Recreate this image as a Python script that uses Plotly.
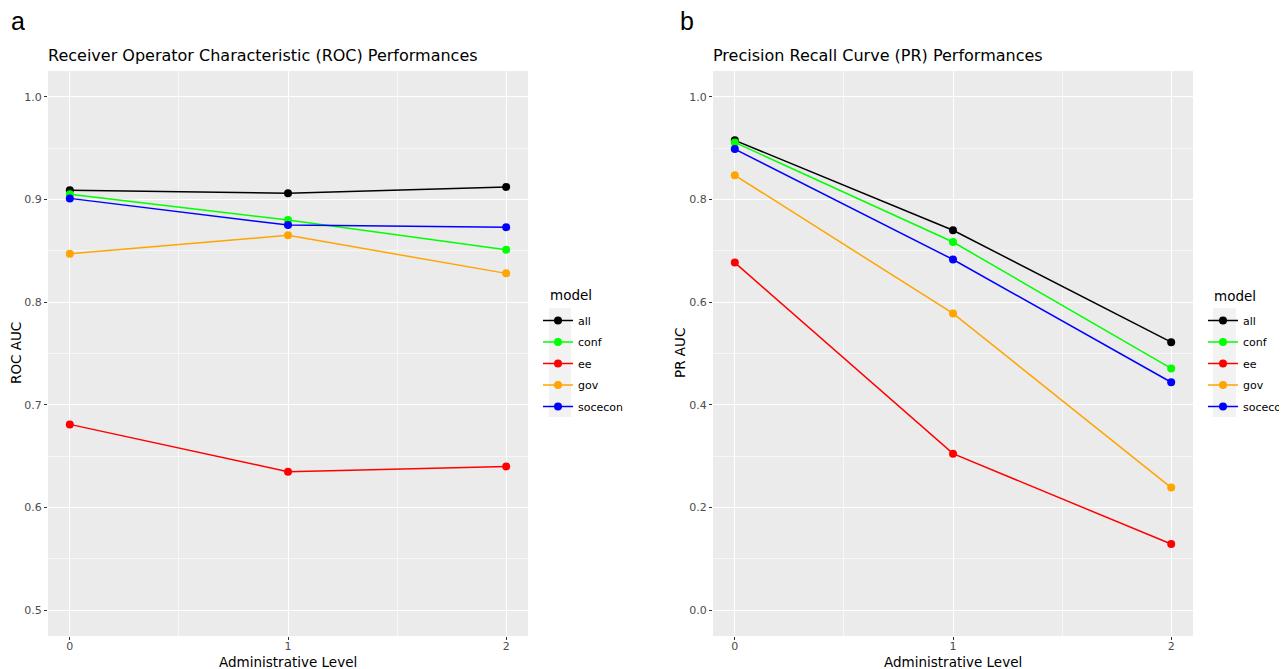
import plotly.graph_objects as go

# The page body has an 8px margin, so lay the figure out in page pixels minus that offset.
PAGE_W, PAGE_H = 1287, 669
OFF = 8
W, H = PAGE_W - OFF, PAGE_H - OFF

levels = [0, 1, 2]
models = ["all", "conf", "ee", "gov", "socecon"]
model_colors = ["#000000", "#00FF00", "#FF0000", "#FFA500", "#0000FF"]

roc_all = [0.909, 0.906, 0.912]
roc_conf = [0.905, 0.880, 0.851]
roc_ee = [0.681, 0.635, 0.640]
roc_gov = [0.847, 0.865, 0.828]
roc_socecon = [0.901, 0.875, 0.873]

pr_all = [0.915, 0.740, 0.522]
pr_conf = [0.911, 0.717, 0.471]
pr_ee = [0.677, 0.305, 0.129]
pr_gov = [0.847, 0.578, 0.239]
pr_socecon = [0.898, 0.683, 0.444]

roc_values = [roc_all, roc_conf, roc_ee, roc_gov, roc_socecon]
pr_values = [pr_all, pr_conf, pr_ee, pr_gov, pr_socecon]

FONT = "DejaVu Sans"


def px_x(v):
    return (v - OFF) / W


def px_y(v):
    return 1 - (v - OFF) / H


fig = go.Figure()

for name, col, vals in zip(models, model_colors, roc_values):
    fig.add_trace(go.Scatter(
        x=levels, y=vals, mode="lines+markers", name=name,
        line=dict(color=col, width=1.5), marker=dict(color=col, size=8),
        xaxis="x", yaxis="y", legend="legend", legendgroup="a_" + name,
    ))
for name, col, vals in zip(models, model_colors, pr_values):
    fig.add_trace(go.Scatter(
        x=levels, y=vals, mode="lines+markers", name=name,
        line=dict(color=col, width=1.5), marker=dict(color=col, size=8),
        xaxis="x2", yaxis="y2", legend="legend2", legendgroup="b_" + name,
    ))

ydom = [px_y(636), px_y(71)]

axis_common = dict(
    showgrid=True, gridcolor="white", gridwidth=1.2,
    ticks="outside", ticklen=3, tickcolor="#333333", tickwidth=1,
    tickfont=dict(family=FONT, size=11, color="#4D4D4D"),
    zeroline=False, showline=False, automargin=False,
    minor=dict(showgrid=True, gridcolor="#F7F7F7", gridwidth=0.6, ticks=""),
)

legend_common = dict(
    xanchor="left", yanchor="top",
    font=dict(family=FONT, size=11, color="black"),
    bgcolor="rgba(0,0,0,0)", tracegroupgap=2.5, itemwidth=30,
)

fig.update_layout(
    width=W, height=H,
    margin=dict(l=0, r=0, t=0, b=0, pad=0, autoexpand=False),
    paper_bgcolor="white",
    plot_bgcolor="#EBEBEB",
    xaxis=dict(domain=[px_x(48), px_x(528)], range=[-0.1, 2.1], tickvals=levels,
               ticktext=[str(v) for v in levels], anchor="y", ticklabelstandoff=-3, **axis_common),
    yaxis=dict(domain=ydom, range=[0.475, 1.025], tickvals=[0.5, 0.6, 0.7, 0.8, 0.9, 1.0],
               ticktext=["0.5", "0.6", "0.7", "0.8", "0.9", "1.0"], anchor="x", **axis_common),
    xaxis2=dict(domain=[px_x(713), px_x(1193)], range=[-0.1, 2.1], tickvals=levels,
                ticktext=[str(v) for v in levels], anchor="y2", ticklabelstandoff=-3, **axis_common),
    yaxis2=dict(domain=ydom, range=[-0.05, 1.05], tickvals=[0, 0.2, 0.4, 0.6, 0.8, 1.0],
                ticktext=["0.0", "0.2", "0.4", "0.6", "0.8", "1.0"], anchor="x2", **axis_common),
    showlegend=True,
    legend=dict(x=px_x(538), y=px_y(306), **legend_common),
    legend2=dict(x=px_x(1203), y=px_y(306), **legend_common),
)

fig.update_xaxes(minor=dict(dtick=0.5))
fig.layout.yaxis.minor.dtick = 0.05
fig.layout.yaxis2.minor.dtick = 0.1
fig.layout.yaxis.minor.tick0 = 0.45
fig.layout.yaxis2.minor.tick0 = 0.0

# legend key backgrounds (ggplot style)
for x0, x1 in [(549, 571), (1213, 1236)]:
    fig.add_shape(type="rect", xref="paper", yref="paper",
                  x0=px_x(x0), x1=px_x(x1), y0=px_y(417), y1=px_y(308),
                  fillcolor="#F2F2F2", line=dict(width=0), layer="below")

annotations = [
    dict(text="a", x=px_x(9), y=px_y(21), xanchor="left", yanchor="middle", height=22,
         font=dict(family="Liberation Sans", size=25, color="black")),
    dict(text="b", x=px_x(678), y=px_y(21), xanchor="left", yanchor="middle", height=22,
         font=dict(family="Liberation Sans", size=25, color="black")),
    dict(text="Receiver Operator Characteristic (ROC) Performances", x=px_x(46), y=px_y(55),
         xanchor="left", yanchor="middle", font=dict(family=FONT, size=16, color="black")),
    dict(text="Precision Recall Curve (PR) Performances", x=px_x(711), y=px_y(55),
         xanchor="left", yanchor="middle", font=dict(family=FONT, size=16, color="black")),
    dict(text="Administrative Level", x=px_x(288), y=px_y(661.5), xanchor="center", yanchor="middle",
         font=dict(family=FONT, size=13.5, color="black")),
    dict(text="Administrative Level", x=px_x(953), y=px_y(661.5), xanchor="center", yanchor="middle",
         font=dict(family=FONT, size=13.5, color="black")),
    dict(text="ROC AUC", x=px_x(16), y=px_y(353), xanchor="center", yanchor="middle", textangle=-90,
         font=dict(family=FONT, size=13.5, color="black")),
    dict(text="PR AUC", x=px_x(680), y=px_y(353), xanchor="center", yanchor="middle", textangle=-90,
         font=dict(family=FONT, size=13.5, color="black")),
    dict(text="model", x=px_x(548), y=px_y(295), xanchor="left", yanchor="middle",
         font=dict(family=FONT, size=13.5, color="black")),
    dict(text="model", x=px_x(1212), y=px_y(296), xanchor="left", yanchor="middle",
         font=dict(family=FONT, size=13.5, color="black")),
]
for a in annotations:
    a.update(xref="paper", yref="paper", showarrow=False)
fig.update_layout(annotations=annotations)

fig.write_html("out.html")
